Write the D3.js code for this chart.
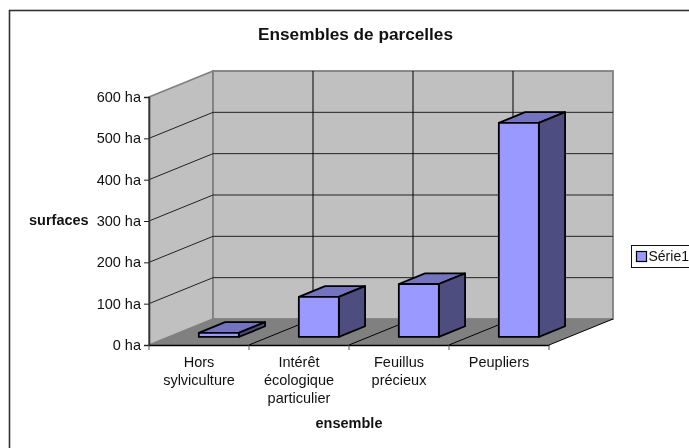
<!DOCTYPE html>
<html>
<head>
<meta charset="utf-8">
<script src="https://cdn.jsdelivr.net/npm/d3@7"></script>
<style>
  html, body { margin: 0; padding: 0; background: #fff; overflow: hidden; }
  svg { display: block; font-family: "Liberation Sans", Arial, sans-serif; filter: blur(0.35px); }
</style>
</head>
<body>
<svg id="chart" width="689" height="448"></svg>
<script>
const categories = [['Hors', 'sylviculture'], ['Intérêt', 'écologique', 'particulier'], ['Feuillus', 'précieux'], ['Peupliers']];
const surfaces = [10, 97, 128, 518];
const yTicks = [0, 100, 200, 300, 400, 500, 600];
const seriesName = 'Série1';

const svg = d3.select('svg#chart');

// Chart frame, cut off by the window on the right and bottom
svg.append('rect')
  .attr('x', 9.5).attr('y', 10.5)
  .attr('width', 720).attr('height', 480)
  .attr('fill', '#fff').attr('stroke', '#333').attr('stroke-width', 1.6);

const x = d3.scaleBand()
  .domain(d3.range(categories.length))
  .range([149, 549]);

const y = d3.scaleLinear()
  .domain([0, 600])
  .range([345, 97]);

// depth goes from 0 (front) to 1 (back wall)
const depthX = 64;
const depthY = -26;
const px = (a, d) => a + depthX * d;
const py = (b, d) => b + depthY * d;
const pts = list => list.map(p => p.join(',')).join(' ');

const xLeft = x.range()[0];
const xRight = x.range()[1];

// Side wall, back wall and floor
svg.append('polygon')
  .attr('points', pts([[xLeft, y(600)], [px(xLeft, 1), py(y(600), 1)], [px(xLeft, 1), py(y(0), 1)], [xLeft, y(0)]]))
  .attr('fill', '#c0c0c0').attr('stroke', '#808080').attr('stroke-width', 1.8);

svg.append('rect')
  .attr('x', px(xLeft, 1)).attr('y', py(y(600), 1))
  .attr('width', xRight - xLeft).attr('height', y(0) - y(600))
  .attr('fill', '#c0c0c0').attr('stroke', '#808080').attr('stroke-width', 1.8);

// Gridlines on the walls
const grid = svg.append('g').attr('stroke', '#222').attr('fill', 'none');
yTicks.filter(t => t > 0 && t < 600).forEach(t => {
  grid.append('polyline')
    .attr('points', pts([[xLeft, y(t)], [px(xLeft, 1), py(y(t), 1)], [px(xRight, 1), py(y(t), 1)]]));
});
categories.slice(1).forEach((c, i) => {
  const bx = px(x(i + 1), 1);
  grid.append('line')
    .attr('x1', bx).attr('x2', bx)
    .attr('y1', py(y(600), 1)).attr('y2', py(y(0), 1))
    .attr('stroke', '#000');
});

svg.append('polygon')
  .attr('points', pts([[xLeft, y(0)], [xRight, y(0)], [px(xRight, 1), py(y(0), 1)], [px(xLeft, 1), py(y(0), 1)]]))
  .attr('fill', '#808080');

// Floor lines
categories.slice(1).concat([[]]).forEach((c, i) => {
  const fx = x(i + 1) === undefined ? xRight : x(i + 1);
  svg.append('line')
    .attr('x1', fx).attr('y1', y(0))
    .attr('x2', px(fx, 1)).attr('y2', py(y(0), 1))
    .attr('stroke', '#000');
});

// Axes
const yAxis = svg.append('g')
  .attr('transform', 'translate(' + xLeft + ',0)')
  .call(d3.axisLeft(y).tickValues(yTicks).tickFormat(d => d + ' ha').tickSize(5).tickPadding(3));
yAxis.select('.domain').attr('stroke', '#333').attr('stroke-width', 1.6);
yAxis.selectAll('.tick line').attr('stroke', '#222');
yAxis.selectAll('text').attr('font-size', 14.5).attr('font-family', 'inherit').attr('fill', '#111');

const xEdges = d3.scaleBand().domain(d3.range(categories.length)).range([xLeft, xRight]);
const xAxis = svg.append('g')
  .attr('transform', 'translate(0,' + y(0) + ')')
  .call(d3.axisBottom(xEdges).tickSize(0).tickFormat(''));
xAxis.select('.domain').attr('stroke', '#000').attr('stroke-width', 1.6);

// Category ticks sit on the band edges, not the centres
svg.append('g').selectAll('line')
  .data(d3.range(categories.length + 1))
  .join('line')
  .attr('x1', i => xLeft + i * x.bandwidth())
  .attr('x2', i => xLeft + i * x.bandwidth())
  .attr('y1', y(0))
  .attr('y2', y(0) + 5)
  .attr('stroke', '#555');

// Category labels
const catLabels = svg.append('g')
  .attr('font-size', 14.5).attr('fill', '#111').attr('text-anchor', 'middle');
categories.forEach((lines, i) => {
  lines.forEach((line, j) => {
    catLabels.append('text')
      .attr('x', x(i) + x.bandwidth() / 2)
      .attr('y', 367 + j * 18)
      .text(line);
  });
});

// Bars
const barDepthFront = 0.31;
const barDepthBack = 0.72;
const barWidth = x.bandwidth() * 0.4;
const bars = svg.append('g')
  .attr('stroke', '#000').attr('stroke-width', 1.8).attr('stroke-linejoin', 'round');

surfaces.forEach((v, i) => {
  const left = x(i) + (x.bandwidth() - barWidth) / 2;
  const right = left + barWidth;
  const a = barDepthFront;
  const b = barDepthBack;

  bars.append('polygon')
    .attr('points', pts([[px(left, a), py(y(v), a)], [px(right, a), py(y(v), a)], [px(right, b), py(y(v), b)], [px(left, b), py(y(v), b)]]))
    .attr('fill', '#7373bf');
  bars.append('polygon')
    .attr('points', pts([[px(right, a), py(y(v), a)], [px(right, b), py(y(v), b)], [px(right, b), py(y(0), b)], [px(right, a), py(y(0), a)]]))
    .attr('fill', '#4d4d80');
  bars.append('rect')
    .attr('x', px(left, a)).attr('y', py(y(v), a))
    .attr('width', barWidth).attr('height', y(0) - y(v))
    .attr('fill', '#9999ff');
});

// Titles
svg.append('text')
  .attr('x', 355.5).attr('y', 40)
  .attr('text-anchor', 'middle').attr('font-size', 17.2).attr('font-weight', 'bold').attr('fill', '#111')
  .text('Ensembles de parcelles');

svg.append('text')
  .attr('x', 349).attr('y', 428)
  .attr('text-anchor', 'middle').attr('font-size', 14.5).attr('font-weight', 'bold').attr('fill', '#111')
  .text('ensemble');

svg.append('text')
  .attr('x', 29).attr('y', 225)
  .attr('font-size', 14.5).attr('font-weight', 'bold').attr('fill', '#111')
  .text('surfaces');

// Legend box is cut off by the window, its text just fits
svg.append('rect')
  .attr('x', 631.5).attr('y', 245.5)
  .attr('width', 80).attr('height', 22)
  .attr('fill', '#fff').attr('stroke', '#111');
svg.append('rect')
  .attr('x', 636.5).attr('y', 251.5)
  .attr('width', 10).attr('height', 10)
  .attr('fill', '#9999ff').attr('stroke', '#000').attr('stroke-width', 1.2);
svg.append('text')
  .attr('x', 648.5).attr('y', 261)
  .attr('font-size', 14).attr('fill', '#111')
  .text(seriesName);
</script>
</body>
</html>
